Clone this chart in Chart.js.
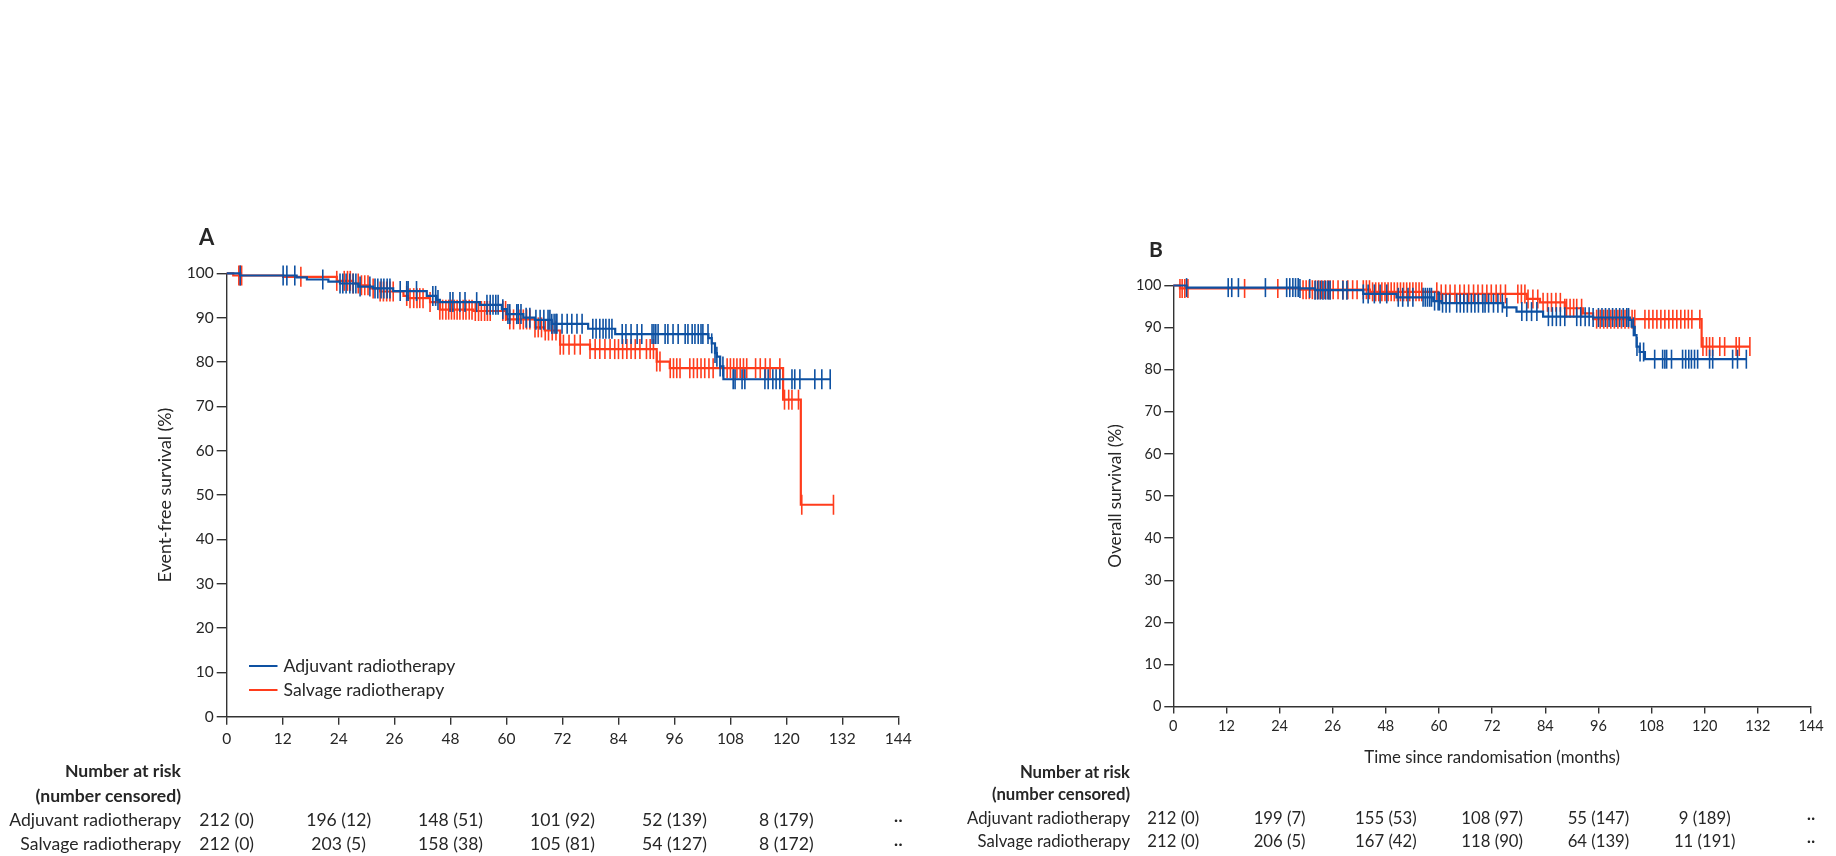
<!DOCTYPE html>
<html>
<head>
<meta charset="utf-8">
<script src="https://cdn.jsdelivr.net/npm/chart.js@4.4.1/dist/chart.umd.min.js"></script>
<style>
  body { margin: 0; background: #fff; }
  .panel { position: absolute; top: 0; width: 918px; height: 856px; }
</style>
</head>
<body>
<div class="panel" style="left:0"><canvas id="chartA" width="918" height="856"></canvas></div>
<div class="panel" style="left:918px"><canvas id="chartB" width="918" height="856"></canvas></div>
<script>
var seriesNames = ["Adjuvant radiotherapy", "Salvage radiotherapy"];
var xTickLabels = ["0", "12", "24", "26", "48", "60", "72", "84", "96", "108", "120", "132", "144"];
var riskTimes = [0, 24, 48, 72, 96, 120, 144];

// panel A: event-free survival
var aAdjT = [0, 2.9, 15.0, 17.2, 21.8, 24.3, 28.2, 31.4, 35.7, 42.9, 45.0, 45.7, 54.3, 59.0, 60.0, 63.6, 66.1, 69.7, 77.5, 83.3, 103.3, 104.0, 104.7, 105.1, 105.8, 106.5, 129.4];
var aAdjS = [100, 99.5, 99.1, 98.6, 98.1, 97.7, 97.0, 96.6, 96.0, 94.9, 94.0, 93.5, 92.9, 91.9, 90.8, 90.0, 89.5, 88.6, 87.5, 86.3, 85.4, 84.2, 82.0, 81.2, 79.0, 76.1, 76.1];
var aSalT = [0, 1.4, 12.1, 23.6, 27.1, 28.6, 30.7, 32.9, 37.9, 38.9, 43.6, 45.7, 52.9, 60.0, 66.1, 68.2, 71.5, 77.9, 92.2, 95.0, 119.3, 123.1, 130.1];
var aSalS = [100, 99.5, 99.2, 98.3, 97.7, 97.3, 96.6, 95.9, 94.9, 94.4, 93.5, 91.8, 91.5, 89.6, 87.8, 87.1, 83.9, 82.9, 80.1, 78.6, 71.5, 47.8, 47.8];
var aAdjC = [2.9, 12.1, 12.9, 14.6, 20.6, 24.3, 24.9, 25.6, 26.4, 27.1, 27.7, 28.6, 30.7, 31.8, 32.4, 33.1, 33.7, 34.4, 35.0, 37.2, 38.6, 38.9, 40.7, 44.2, 44.8, 45.3, 47.9, 48.5, 50.0, 51.1, 53.6, 55.8, 56.5, 57.1, 57.7, 58.2, 59.2, 60.3, 60.7, 62.2, 62.5, 63.1, 64.2, 65.0, 66.3, 67.2, 68.0, 68.9, 69.3, 69.7, 70.2, 70.6, 70.8, 71.9, 73.0, 74.0, 75.1, 76.2, 78.5, 79.2, 80.0, 80.7, 81.3, 82.0, 82.6, 84.8, 85.6, 86.7, 88.0, 89.0, 91.2, 91.6, 92.0, 92.5, 94.0, 94.6, 95.7, 96.8, 98.3, 98.9, 99.8, 100.4, 101.1, 101.7, 102.1, 103.2, 104.0, 104.7, 105.1, 105.8, 106.4, 108.6, 109.0, 110.5, 111.1, 115.4, 116.1, 117.1, 117.8, 118.6, 121.2, 121.8, 122.9, 126.1, 127.6, 129.4];
var aSalC = [2.6, 2.9, 3.2, 15.9, 23.6, 25.2, 25.9, 26.5, 27.1, 28.2, 28.9, 29.6, 30.3, 31.4, 32.9, 33.6, 34.3, 35.0, 35.7, 38.6, 39.3, 40.1, 40.8, 41.4, 42.1, 43.6, 45.7, 46.3, 47.0, 47.6, 48.2, 48.8, 49.4, 50.0, 50.7, 51.3, 52.0, 52.6, 53.3, 54.0, 54.6, 55.3, 55.9, 56.5, 59.2, 59.8, 60.7, 61.5, 62.9, 63.6, 64.3, 65.0, 66.1, 66.8, 67.5, 68.3, 69.0, 69.8, 70.6, 71.5, 72.2, 73.4, 74.6, 75.8, 77.9, 79.0, 80.0, 81.1, 82.2, 83.2, 84.0, 84.9, 85.8, 86.7, 87.6, 88.6, 90.0, 90.8, 91.5, 92.2, 92.9, 95.1, 95.8, 96.5, 97.2, 99.3, 100.1, 100.9, 101.7, 102.5, 103.4, 104.3, 107.3, 108.0, 108.7, 109.4, 110.1, 110.8, 111.5, 113.4, 114.4, 115.5, 116.5, 118.6, 119.6, 120.5, 121.2, 122.6, 123.3, 130.1];
var aRiskAdj = ["212 (0)", "196 (12)", "148 (51)", "101 (92)", "52 (139)", "8 (179)", "··"];
var aRiskSal = ["212 (0)", "203 (5)", "158 (38)", "105 (81)", "54 (127)", "8 (172)", "··"];

// panel B: overall survival
var bAdjT = [0, 3.0, 28.6, 32.0, 42.9, 50.4, 58.7, 60.6, 74.5, 77.5, 83.5, 94.8, 103.1, 103.5, 104.2, 104.6, 105.3, 106.5, 129.4];
var bAdjS = [100, 99.5, 99.3, 98.9, 98.0, 97.2, 96.3, 95.8, 94.8, 93.8, 92.6, 92.4, 91.8, 90.2, 88.2, 85.5, 84.2, 82.5, 82.5];
var bSalT = [0, 1.5, 28.6, 44.4, 59.8, 79.8, 82.8, 88.4, 92.5, 94.8, 119.3, 130.2];
var bSalS = [100, 99.3, 99.0, 98.5, 98.0, 96.8, 96.0, 94.6, 93.4, 92.0, 85.5, 85.5];
var bAdjC = [3.0, 12.4, 13.2, 14.7, 20.8, 25.6, 26.3, 27.0, 27.6, 28.2, 28.6, 30.8, 32.0, 32.6, 33.2, 33.8, 34.4, 35.0, 35.4, 38.3, 39.2, 42.9, 44.0, 45.4, 46.7, 48.2, 50.8, 51.8, 53.0, 54.1, 56.4, 56.9, 57.4, 57.9, 58.3, 59.0, 59.8, 60.1, 60.8, 61.6, 62.4, 64.0, 64.8, 65.6, 66.4, 67.3, 68.1, 68.9, 69.9, 70.4, 71.2, 72.3, 73.3, 74.3, 75.3, 78.7, 79.8, 80.9, 82.1, 84.7, 85.6, 86.5, 87.4, 88.4, 91.1, 92.0, 93.0, 93.9, 94.8, 96.0, 96.8, 97.6, 98.4, 99.2, 100.0, 100.8, 101.6, 102.4, 102.8, 103.9, 104.7, 105.4, 106.2, 108.7, 110.5, 111.0, 111.4, 112.5, 115.0, 115.7, 116.4, 117.0, 117.7, 118.4, 121.1, 121.8, 126.3, 127.4, 129.4];
var bSalC = [1.5, 2.0, 2.6, 3.3, 16.1, 23.6, 29.3, 30.0, 30.7, 31.4, 32.1, 32.8, 33.5, 34.2, 34.9, 35.4, 36.1, 37.2, 38.3, 39.4, 40.5, 41.5, 42.9, 43.6, 44.3, 45.0, 45.7, 46.4, 47.1, 47.8, 48.5, 49.2, 49.9, 50.6, 51.3, 52.0, 52.7, 53.4, 54.1, 54.8, 55.5, 56.1, 59.5, 60.5, 61.5, 62.5, 63.6, 64.7, 65.7, 66.7, 67.8, 68.8, 69.8, 70.8, 71.8, 72.9, 73.9, 75.0, 77.8, 78.6, 79.4, 80.1, 81.2, 82.3, 83.5, 84.5, 85.4, 86.4, 87.4, 88.4, 88.8, 89.6, 90.4, 91.1, 92.2, 95.6, 96.4, 97.2, 98.0, 98.8, 99.6, 100.4, 101.2, 102.0, 102.8, 103.6, 104.2, 106.5, 107.4, 108.3, 109.2, 110.1, 111.0, 111.9, 112.8, 113.7, 114.6, 115.5, 116.3, 117.1, 118.9, 119.6, 120.4, 121.1, 121.8, 123.4, 124.5, 127.1, 127.8, 130.2];
var bRiskAdj = ["212 (0)", "199 (7)", "155 (53)", "108 (97)", "55 (147)", "9 (189)", "··"];
var bRiskSal = ["212 (0)", "206 (5)", "167 (42)", "118 (90)", "64 (139)", "11 (191)", "··"];

var BLUE = "#0e51a2";
var RED = "#ff3c1c";
var FONT = "Lato, 'Noto Sans', sans-serif";
var INK = "#262626";

// KM curve value at time t (step function)
function survAt(ts, ss, t) {
  var s = ss[0];
  for (var i = 0; i < ts.length; i++) {
    if (ts[i] <= t) s = ss[i];
  }
  return s;
}

function kmSets(label, color, ts, ss, cens, tickR) {
  return [
    {
      type: "line", label: label,
      data: ts.map(function (t, i) { return { x: t, y: ss[i] }; }),
      borderColor: color, borderWidth: 2.2, stepped: true,
      pointRadius: 0, fill: false, clip: false
    },
    {
      type: "scatter", label: label + " (censored)",
      data: cens.map(function (t) { return { x: t, y: survAt(ts, ss, t) }; }),
      pointStyle: "line", rotation: 90, pointRadius: tickR,
      pointBorderColor: color, pointBorderWidth: 1.6, borderColor: color,
      showLine: false, clip: false
    }
  ];
}

var panelText = {
  id: "panelText",
  afterDraw: function (chart, args, o) {
    var ctx = chart.ctx, xs = chart.scales.x, area = chart.chartArea;
    ctx.save();
    ctx.fillStyle = INK;
    ctx.textBaseline = "middle";
    ctx.textAlign = "center";
    ctx.font = "bold " + o.letterSize + "px " + FONT;
    ctx.fillText(o.letter, o.letterX, o.letterY);

    ctx.font = o.textSize + "px " + FONT;
    if (o.legend) {
      var lines = chart.data.datasets.filter(function (d) { return d.type === "line"; });
      ctx.textAlign = "left";
      lines.forEach(function (d, i) {
        var y = area.bottom + o.legendY[i];
        ctx.strokeStyle = d.borderColor;
        ctx.lineWidth = 2;
        ctx.beginPath();
        ctx.moveTo(area.left + o.legendX[0], y);
        ctx.lineTo(area.left + o.legendX[1], y);
        ctx.stroke();
        ctx.fillStyle = INK;
        ctx.fillText(d.label, area.left + o.legendX[2], y);
      });
    }

    var labX = area.left + o.labelDx;
    ctx.textAlign = "right";
    ctx.font = "bold " + o.textSize + "px " + FONT;
    ctx.fillText("Number at risk", labX, area.bottom + o.rowY[0]);
    ctx.fillText("(number censored)", labX, area.bottom + o.rowY[1]);
    ctx.font = o.textSize + "px " + FONT;
    var rows = [o.riskAdj, o.riskSal];
    rows.forEach(function (vals, i) {
      var y = area.bottom + o.rowY[i + 2];
      ctx.textAlign = "right";
      ctx.fillText(seriesNames[i], labX, y);
      ctx.textAlign = "center";
      vals.forEach(function (v, j) {
        ctx.fillText(v, xs.getPixelForValue(riskTimes[j]), y);
      });
    });
    ctx.restore();
  }
};

function makeChart(id, c) {
  var tickFont = { family: FONT, size: c.tickSize };
  return new Chart(document.getElementById(id), {
    data: {
      datasets: kmSets(seriesNames[0], BLUE, c.adjT, c.adjS, c.adjC, c.tickR)
        .concat(kmSets(seriesNames[1], RED, c.salT, c.salS, c.salC, c.tickR))
    },
    options: {
      responsive: false,
      animation: false,
      events: [],
      layout: { padding: c.padding },
      plugins: {
        legend: { display: false },
        tooltip: { enabled: false },
        panelText: c.text
      },
      scales: {
        x: {
          type: "linear", min: 0, max: 144,
          afterFit: function (s) { s.height = c.xHeight; },
          grid: { drawOnChartArea: false, drawTicks: true, tickLength: c.xTickLen, color: "#333", lineWidth: 1.4 },
          border: { display: true, color: "#333", width: 1.4 },
          ticks: {
            stepSize: 12, padding: c.xTickPad, color: INK, font: tickFont, maxRotation: 0,
            callback: function (v) { return xTickLabels[Math.round(v / 12)]; }
          },
          title: {
            display: !!c.xTitle, text: c.xTitle || "", color: INK,
            font: { family: FONT, size: c.xTitleSize }, padding: 0
          }
        },
        y: {
          type: "linear", min: 0, max: 100,
          afterFit: function (s) { s.width = c.yWidth; },
          grid: { drawOnChartArea: false, drawTicks: true, tickLength: c.yTickLen, color: "#333", lineWidth: 1.4 },
          border: { display: true, color: "#333", width: 1.4 },
          ticks: { stepSize: 10, padding: 3, color: INK, font: tickFont },
          title: {
            display: true, text: c.yTitle, color: INK,
            font: { family: FONT, size: c.yTitleSize }, padding: 0
          }
        }
      }
    },
    plugins: [panelText]
  });
}

makeChart("chartA", {
  adjT: aAdjT, adjS: aAdjS, adjC: aAdjC, salT: aSalT, salS: aSalS, salC: aSalC,
  tickR: 10, tickSize: 15.5, yTitleSize: 17.8, xTitleSize: 16,
  padding: { left: 154.3, top: 273.3, right: 19.7, bottom: 109.3 },
  xHeight: 30, yWidth: 72.4, xTickLen: 8, yTickLen: 10, xTickPad: 5,
  yTitle: "Event-free survival (%)",
  text: {
    letter: "A", letterX: 206.7, letterY: 238.3, letterSize: 22, textSize: 17.6,
    legend: true, legendX: [22.3, 50.8, 56.8], legendY: [-50.7, -26.7],
    labelDx: -45.7, rowY: [55, 80, 103.3, 127.3],
    riskAdj: aRiskAdj, riskSal: aRiskSal
  }
});

makeChart("chartB", {
  adjT: bAdjT, adjS: bAdjS, adjC: bAdjC, salT: bSalT, salS: bSalS, salC: bSalC,
  tickR: 9.5, tickSize: 14.5, yTitleSize: 17.2, xTitleSize: 16.8,
  padding: { left: 186.7, top: 285.5, right: 25, bottom: 88.6 },
  xHeight: 60.9, yWidth: 68.6, xTickLen: 7, yTickLen: 9, xTickPad: 4,
  yTitle: "Overall survival (%)",
  xTitle: "Time since randomisation (months)",
  text: {
    letter: "B", letterX: 238, letterY: 250, letterSize: 21, textSize: 16.7,
    legend: false,
    labelDx: -43.3, rowY: [66.5, 88.5, 112.5, 135.5],
    riskAdj: bRiskAdj, riskSal: bRiskSal
  }
});
</script>
</body>
</html>
